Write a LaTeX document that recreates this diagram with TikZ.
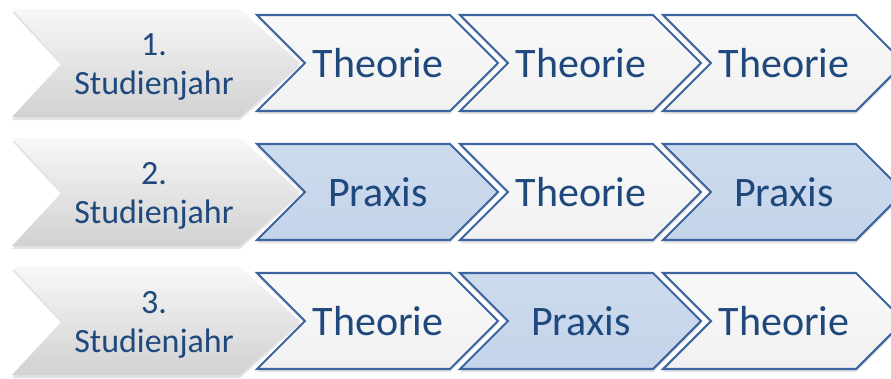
\documentclass[tikz,border=0pt]{standalone}
\usepackage{fontspec}
\setmainfont{Carlito}
\usetikzlibrary{shadows}
\definecolor{txtblue}{RGB}{31,73,125}
\definecolor{edgeblue}{RGB}{60,100,158}
\definecolor{praxfill}{RGB}{196,212,234}
\tikzset{
  chevblue/.style={draw=edgeblue, line width=2.1pt, line join=miter,
    drop shadow={opacity=0.22, shadow xshift=0pt, shadow yshift=-3pt}},
  theo/.style={chevblue, top color=white!95!gray, bottom color=gray!11},
  prax/.style={chevblue, top color=praxfill!85!white, bottom color=praxfill},
  grayc/.style={top color=gray!6, bottom color=gray!36,
    drop shadow={opacity=0.22, shadow xshift=0pt, shadow yshift=-3pt}},
  bigtxt/.style={text=txtblue, font=\fontsize{42}{50}\selectfont, inner sep=0pt},
  yeartxt/.style={text=txtblue, font=\fontsize{34}{39}\selectfont, align=center, inner sep=0pt}
}
% #1 left x, #2 top y, #3 width to corner, #4 height, #5 notch depth, #6 tip depth, #7 style
\newcommand\chevshape[7]{%
  \path[#7] (#1,#2) -- ({#1+#3},#2) -- ({#1+#3+#6},{#2+#4/2}) -- ({#1+#3},{#2+#4})
    -- (#1,{#2+#4}) -- ({#1+#5},{#2+#4/2}) -- cycle;}
\begin{document}
\begin{tikzpicture}[x=1pt,y=-1pt]
\useasboundingbox (0,0) rectangle (891,378);
\begin{scope}
\clip (0,0) rectangle (891,378);
% row 1
\chevshape{12}{9}{228}{108}{50}{60}{grayc}
\chevshape{663}{15}{193}{96}{48}{48}{theo}
\chevshape{460}{15}{193}{96}{48}{48}{theo}
\chevshape{257}{15}{193}{96}{48}{48}{theo}
% row 2
\chevshape{12}{138}{228}{108}{50}{60}{grayc}
\chevshape{663}{144}{193}{96}{48}{48}{prax}
\chevshape{460}{144}{193}{96}{48}{48}{theo}
\chevshape{257}{144}{193}{96}{48}{48}{prax}
% row 3
\chevshape{12}{267}{228}{108}{50}{60}{grayc}
\chevshape{663}{273}{193}{96}{48}{48}{theo}
\chevshape{460}{273}{193}{96}{48}{48}{prax}
\chevshape{257}{273}{193}{96}{48}{48}{theo}
\end{scope}
% texts
\node[yeartxt] (y1) at (154,67) {1.\\Studienjahr};
\node[yeartxt] (y2) at (154,196) {2.\\Studienjahr};
\node[yeartxt] (y3) at (154,325) {3.\\Studienjahr};
\node[bigtxt] (a1) at (378,63) {Theorie};
\node[bigtxt] (b1) at (581,63) {Theorie};
\node[bigtxt] (c1) at (784,63) {Theorie};
\node[bigtxt] (a2) at (378,192) {Praxis};
\node[bigtxt] (b2) at (581,192) {Theorie};
\node[bigtxt] (c2) at (784,192) {Praxis};
\node[bigtxt] (a3) at (378,321) {Theorie};
\node[bigtxt] (b3) at (581,321) {Praxis};
\node[bigtxt] (c3) at (784,321) {Theorie};
\end{tikzpicture}
\end{document}
